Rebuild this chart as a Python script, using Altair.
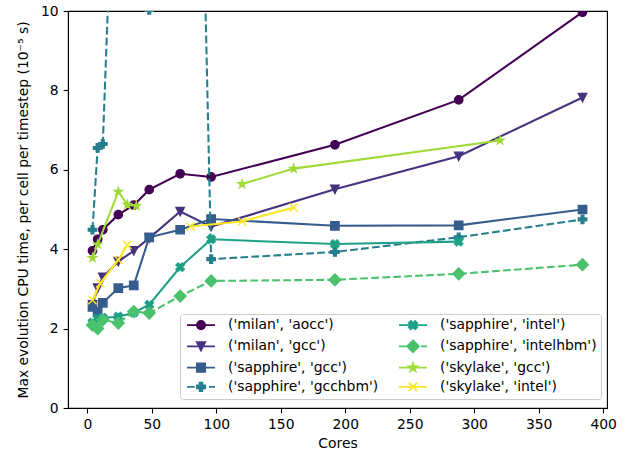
import altair as alt
import pandas as pd
import math

# ---------------- data ----------------
series_names = ["('milan', 'aocc')", "('milan', 'gcc')", "('sapphire', 'gcc')", "('sapphire', 'gcchbm')",
                "('sapphire', 'intel')", "('sapphire', 'intelhbm')", "('skylake', 'gcc')", "('skylake', 'intel')"]
colors = ["#440154", "#46327e", "#365c8d", "#277f8e", "#1fa187", "#4ac16d", "#a0da39", "#fde725"]
markers = ["o", "v", "s", "P", "X", "D", "*", "x"]
dashed = [False, False, False, True, False, True, False, False]

milan_cores = [4, 8, 12, 24, 36, 48, 72, 96, 192, 288, 384]
milan_aocc = [3.96, 4.25, 4.49, 4.87, 5.11, 5.50, 5.90, 5.82, 6.63, 7.76, 9.97]
milan_gcc = [2.60, 3.02, 3.29, 3.69, 3.96, 4.28, 4.95, 4.57, 5.51, 6.34, 7.82]

sapphire_cores = [4, 8, 12, 24, 36, 48, 72, 96, 192, 288, 384]
sapphire_gcc = [2.55, 2.42, 2.65, 3.02, 3.09, 4.30, 4.49, 4.76, 4.59, 4.60, 5.00]
sapphire_gcchbm = [4.49, 6.55, 6.65, 17.2, 25.0, 10.03, 38.6, 3.75, 3.93, 4.30, 4.75]
sapphire_intel = [2.15, 2.25, 2.27, 2.30, 2.40, 2.60, 3.55, 4.25, 4.13, 4.19, None]
sapphire_intelhbm = [2.09, 2.00, 2.22, 2.14, 2.43, 2.39, 2.82, 3.20, 3.23, 3.38, 3.61]

skylake_gcc_cores = [4, 8, 24, 31, 38, 80, 120, 160, 320]
skylake_gcc = [3.78, 4.12, 5.45, 5.12, 5.09, None, 5.64, 6.03, 6.74]
skylake_intel_cores = [4, 10, 24, 31, 40, 80, 120, 160]
skylake_intel = [2.72, 3.14, 3.73, 4.11, None, 4.57, 4.70, 5.05]

series_data = [
    (milan_cores, milan_aocc), (milan_cores, milan_gcc),
    (sapphire_cores, sapphire_gcc), (sapphire_cores, sapphire_gcchbm),
    (sapphire_cores, sapphire_intel), (sapphire_cores, sapphire_intelhbm),
    (skylake_gcc_cores, skylake_gcc), (skylake_intel_cores, skylake_intel),
]

rows = []
for name, (xs, ys) in zip(series_names, series_data):
    seg = 0
    for xv, yv in zip(xs, ys):
        if yv is None:
            seg += 1
            continue
        rows.append({"series": name, "cores": xv, "value": yv, "seg": seg})
df = pd.DataFrame(rows)

# ---------------- marker shapes (matplotlib-like) ----------------
def poly(pts, s=1.0):
    return "M" + "L".join(f"{x*s:.3f},{y*s:.3f}" for x, y in pts) + "Z"

def star_pts():
    pts = []
    for k in range(10):
        th = math.pi / 2 + k * math.pi / 5
        r = 1.0 if k % 2 == 0 else 0.381966
        pts.append((r * math.cos(th), -r * math.sin(th)))
    return pts

def marker_path(m, s=1.0):
    if m == "o":
        return (f"M{-s:.3f},0A{s:.3f},{s:.3f},0,1,0,{s:.3f},0A{s:.3f},{s:.3f},0,1,0,{-s:.3f},0Z")
    if m == "v":
        return poly([(0, 1), (1, -1), (-1, -1)], s)
    if m == "s":
        return poly([(-1, -1), (1, -1), (1, 1), (-1, 1)], s)
    if m == "P":
        a = 1 / 3
        return poly([(-a, -1), (a, -1), (a, -a), (1, -a), (1, a), (a, a), (a, 1), (-a, 1), (-a, a), (-1, a), (-1, -a), (-a, -a)], s)
    if m == "X":
        return poly([(-0.5, -1), (0, -0.5), (0.5, -1), (1, -0.5), (0.5, 0), (1, 0.5), (0.5, 1), (0, 0.5),
                     (-0.5, 1), (-1, 0.5), (-0.5, 0), (-1, -0.5)], s)
    if m == "D":
        d = 1.414
        return poly([(0, -d), (d, 0), (0, d), (-d, 0)], s)
    if m == "*":
        return poly(star_pts(), s)
    if m == "x":
        return f"M{-s:.3f},{-s:.3f}L{s:.3f},{s:.3f}M{-s:.3f},{s:.3f}L{s:.3f},{-s:.3f}"
    return "circle"

MS = 8.33                # marker size in px
PT_SIZE = MS * MS
LEG_SYM = 12.0           # legend symbol box (px)
LEG_SIZE = LEG_SYM * LEG_SYM
LEG_HALF_LINE = 14.0     # half of legend handle length (px)
unit = LEG_SYM / 2
leg_scale = (MS / 2) / unit
L = LEG_HALF_LINE / unit

def legend_path(m, is_dashed):
    if is_dashed:
        # dash 7.7px, gap 3.3px over a 28px handle
        segs = [(0, 7.7), (11.0, 18.7), (22.0, 28.0)]
        line = "".join(f"M{(a - 14) / unit:.3f},0H{(b - 14) / unit:.3f}" for a, b in segs)
    else:
        line = f"M{-L:.3f},0H{L:.3f}"
    return line + marker_path(m, leg_scale)

# ---------------- scales / axes ----------------
font = "DejaVu Sans"
fs = 13.9
xscale = alt.Scale(domain=[-15, 403], nice=False, zero=False)
yscale = alt.Scale(domain=[0, 10], nice=False, zero=False)
common_axis = dict(grid=False, tickSize=4.9, tickWidth=1.1, tickColor="black", domainColor="black",
                   domainWidth=1.1, labelFont=font, labelFontSize=fs, labelColor="black", labelPadding=4.9,
                   titleFont=font, titleFontSize=fs, titleFontWeight="normal", titleColor="black",
                   labelFlush=False, labelOverlap=False)
xaxis = alt.Axis(values=list(range(0, 401, 50)), title="Cores", titlePadding=4.5, **common_axis)
yaxis = alt.Axis(values=[0, 2, 4, 6, 8, 10], title="Max evolution CPU time, per cell per timestep (10⁻⁵ s)",
                 titlePadding=10, **common_axis)

layers = []
for i, name in enumerate(series_names):
    sub = df[df.series == name]
    base = alt.Chart(sub).encode(
        x=alt.X("cores:Q", scale=xscale, axis=xaxis),
        y=alt.Y("value:Q", scale=yscale, axis=yaxis),
    )
    lk = dict(color=colors[i], strokeWidth=2.08, clip=True)
    if dashed[i]:
        lk["strokeDash"] = [7.7, 3.3]
    layers.append(base.mark_line(**lk).encode(detail="seg:N", order="cores:Q"))
    m = markers[i]
    shape = "circle" if m == "o" else marker_path(m)
    if m == "x":
        pk = dict(shape=shape, size=PT_SIZE, filled=False, stroke=colors[i], strokeWidth=1.39, opacity=1, clip=True)
    else:
        pk = dict(shape=shape, size=PT_SIZE, filled=True, fill=colors[i], stroke=colors[i], strokeWidth=1.39,
                  opacity=1, clip=True)
    layers.append(base.mark_point(**pk))

# legend: Vega fills the 2 columns column-major, like matplotlib
leg_domain = list(series_names)
leg_colors = list(colors)
leg_shapes = [legend_path(markers[k], dashed[k]) for k in range(len(series_names))]

leg_props = dict(title=None, orient="none", legendX=112, legendY=303, columns=2, columnPadding=16,
                 rowPadding=3.3, symbolSize=LEG_SIZE, symbolStrokeWidth=1.8, symbolOffset=10,
                 labelFont=font, labelFontSize=fs,
                 labelColor="black", labelOffset=20, labelLimit=400, fillColor="white", strokeColor="#cccccc",
                 padding=4, cornerRadius=3)

legend_layer = alt.Chart(df).transform_filter("datum.cores < -1000").mark_point(
    filled=True, opacity=1, size=LEG_SIZE, strokeWidth=1.8
).encode(
    x=alt.X("cores:Q", scale=xscale, axis=xaxis),
    y=alt.Y("value:Q", scale=yscale, axis=yaxis),
    fill=alt.Fill("series:N", scale=alt.Scale(domain=leg_domain, range=leg_colors), legend=alt.Legend(**leg_props)),
    stroke=alt.Stroke("series:N", scale=alt.Scale(domain=leg_domain, range=leg_colors), legend=alt.Legend(**leg_props)),
    shape=alt.Shape("series:N", scale=alt.Scale(domain=leg_domain, range=leg_shapes), legend=alt.Legend(**leg_props)),
)

chart = alt.layer(*layers, legend_layer).properties(
    width=539, height=397,
    padding={"left": 68, "top": 11, "right": 16, "bottom": 42},
    autosize=alt.AutoSizeParams(type="none"),
    background="white",
).configure_view(stroke="black", strokeWidth=1.1)

chart.save("out.html", embed_options={"renderer": "svg", "actions": False})
